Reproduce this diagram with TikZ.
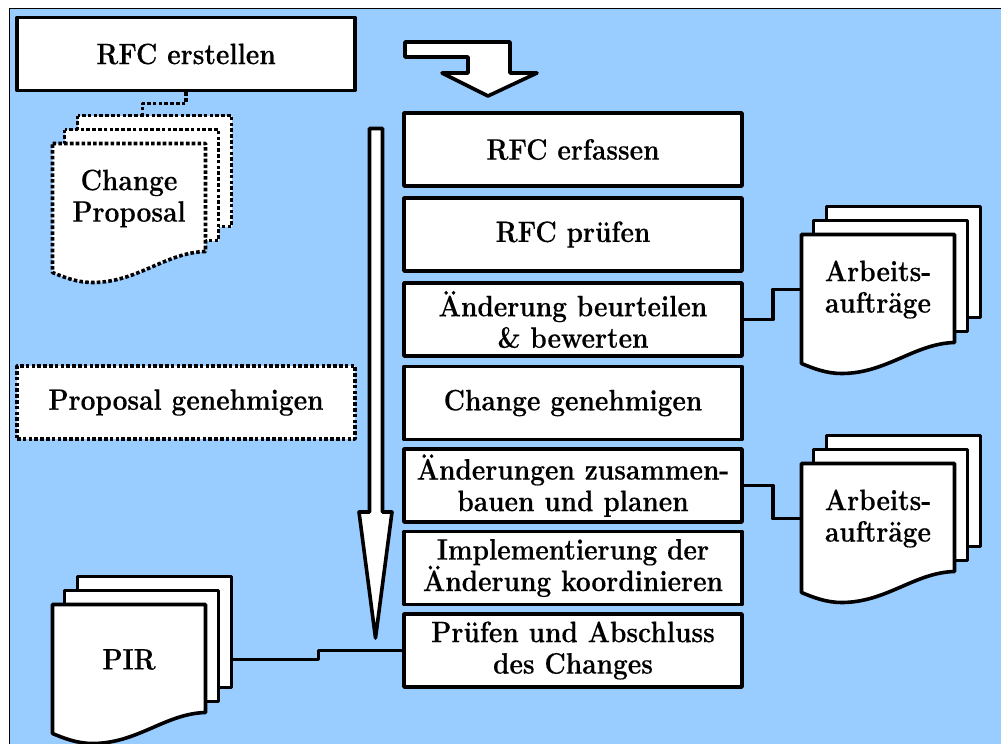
\documentclass[tikz,border=0pt]{standalone}
\usepackage{fontspec}
\newfontfamily\dgfont{lmroman12-bold.otf}[FakeStretch=0.89,FakeBold=0.3]
\definecolor{bgblue}{RGB}{153,204,255}

% stack of three pages: #1,#2 = top-left of the front page, #3 = extra style,
% #4 = name, #5 = label
\newcommand\docstack[5]{%
  \draw[page,#3] (#1+25,#2-28) rectangle ++(154,111);
  \draw[page,#3] (#1+12,#2-14) rectangle ++(154,111);
  \draw[page,#3] (#1,#2) -- (#1+153,#2) -- (#1+153,#2+108)
    .. controls (#1+113,#2+109) and (#1+85,#2+139) .. (#1+40,#2+139)
    .. controls (#1+25,#2+139) and (#1+12,#2+134) .. (#1,#2+129) -- cycle;
  \node[doctext,minimum width=153pt,minimum height=110pt] (#4) at (#1+76.5,#2+55) {#5};
  \coordinate (#4-out) at (#1+179,#2+55);
  \coordinate (#4-top) at (#1+90,#2-28);
}

\tikzset{
  lw/.style={line width=3.6pt,line join=round},
  page/.style={lw,draw=black,fill=white},
  dotline/.style={dash pattern=on 3.6pt off 2.2pt},
  doctext/.style={inner sep=0pt,align=center,font=\dgfont\fontsize{29.5}{31.5}\selectfont},
  stepbox/.style={lw,draw=black,fill=white,minimum width=338pt,minimum height=73pt,
    inner sep=0pt,align=center,font=\dgfont\fontsize{29.5}{31.5}\selectfont},
  conn/.style={lw,draw=black},
  bigarrow/.style={lw,draw=black,fill=white},
}

\begin{document}
\begin{tikzpicture}[x=1pt,y=-1pt]
\useasboundingbox (0,0) rectangle (1001,744);
\fill[white] (0,0) rectangle (1001,744);
\fill[bgblue] (9,8) rectangle (1001,744);
\draw[line width=1pt] (9,744) -- (9,8) -- (1001,8);

% left column
\node[stepbox] (rfc) at (186,54) {RFC erstellen};
\node[stepbox,dotline] (pg) at (186,402.5) {Proposal genehmigen};

% process steps
\node[stepbox] (b1) at (573,149.5) {RFC erfassen};
\node[stepbox] (b2) at (573,234.5) {RFC prüfen};
\node[stepbox] (b3) at (573,319.5) {Änderung beurteilen\\\& bewerten};
\node[stepbox] (b4) at (573,403) {Change genehmigen};
\node[stepbox] (b5) at (573,485.5) {Änderungen zusammen-\\bauen und planen};
\node[stepbox] (b6) at (573,568) {Implementierung der\\Änderung koordinieren};
\node[stepbox] (b7) at (573,650.5) {Prüfen und Abschluss\\des Changes};

% documents
\docstack{52.5}{143.5}{dotline}{cp}{Change\\Proposal}
\docstack{801.5}{234.5}{}{arb1}{Arbeits-\\aufträge}
\docstack{801.5}{463.5}{}{arb2}{Arbeits-\\aufträge}
\docstack{52.5}{604.5}{}{pir}{PIR}

% connectors
\draw[conn,dotline] (rfc.south) -- ++(0,11) -| (cp-top);
\draw[conn] (b3.east) -- ++(29,0) |- (arb1.west);
\draw[conn] (b5.east) -- ++(29,0) |- (arb2.west);
\draw[conn] (pir-out) -- ++(87,0) |- (b7.west);

% flow arrows
\draw[bigarrow] (405,42) -- (510,42) -- (510,73) -- (537,73) -- (488,96)
  -- (442,73) -- (468,73) -- (468,57) -- (405,57) -- cycle;
\draw[bigarrow] (369.5,128.5) -- (382.5,128.5) -- (382.5,512) -- (392,512)
  -- (375.5,638) -- (359,512) -- (369.5,512) -- cycle;
\end{tikzpicture}
\end{document}
